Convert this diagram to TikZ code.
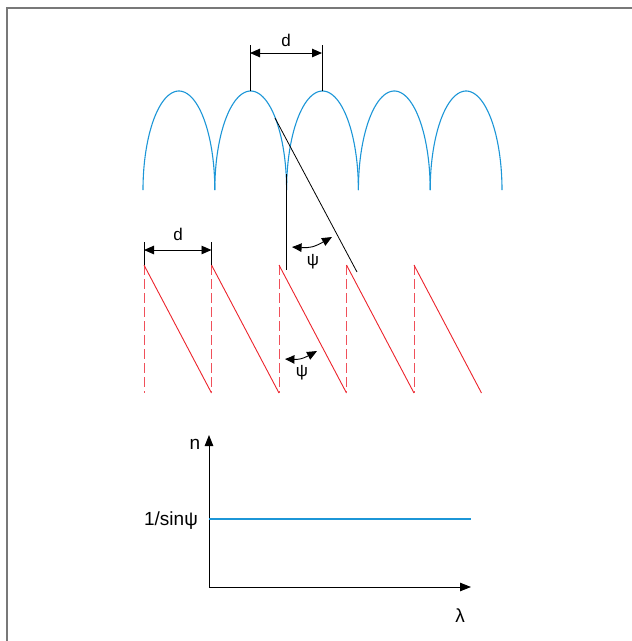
\documentclass[tikz,border=0pt]{standalone}
\usepackage{fontspec}
\setmainfont{Liberation Sans}
\usetikzlibrary{arrows.meta,bending}
\definecolor{arcblue}{RGB}{28,150,215}
\definecolor{sawred}{RGB}{236,36,44}
\definecolor{dashred}{RGB}{240,80,90}
\definecolor{framegray}{RGB}{120,120,120}
\begin{document}
\begin{tikzpicture}[x=1pt,y=-1pt,
  arch/.style={draw=arcblue,line width=1.1pt},
  saw/.style={draw=sawred,line width=0.9pt},
  sawdash/.style={draw=dashred,line width=0.9pt,dash pattern=on 10pt off 4pt},
  thin/.style={draw=black,line width=0.8pt},
  dimarrow/.style={draw=black,line width=0.9pt,{Triangle[length=10pt,width=8.5pt,bend]}-{Triangle[length=10pt,width=8.5pt,bend]}},
  axis/.style={draw=black,line width=0.9pt,-{Triangle[length=11pt,width=8.5pt]}},
  lbl/.style={inner sep=0pt,font=\fontsize{17}{17}\selectfont},
  biglbl/.style={inner sep=0pt,font=\fontsize{19}{19}\selectfont}]
\useasboundingbox (0,0) rectangle (632,641);
% frame
\draw[framegray,line width=1.4pt] (7,641) -- (7,8) -- (632,8);
% arches
\foreach \i in {0,...,4}{
  \pgfmathsetmacro{\cx}{178.9+71.8*\i}
  \draw[arch] plot[domain=180:360,samples=60,smooth] ({\cx+35.9*cos(\x)},{190+99*sin(\x)});
}
% top dimension d
\coordinate (p2) at (250,91);
\coordinate (p3) at (322,91);
\coordinate (p2t) at (250,45);
\coordinate (p3t) at (322,45);
\draw[thin] (p2) -- (p2t);
\draw[thin] (p3) -- (p3t);
\coordinate (da) at (250,53);
\coordinate (db) at (322,53);
\draw[dimarrow] (da) -- (db);
\node[lbl] (dtop) at (286,40) {d};
% black ray and normal
\coordinate (rs) at (275,118);
\coordinate (re) at (357,272);
\draw[thin] (rs) -- (re);
\coordinate (vs) at (286,174);
\coordinate (ve) at (286,270);
\draw[thin] (vs) -- (ve);
% psi arrow 1
\coordinate (a1) at (292,247);
\coordinate (a2) at (332,237);
\draw[dimarrow] (a1) .. controls (312,248.5) .. (a2);
\node[lbl] (psi1) at (313,262) {ψ};
% sawtooth
\foreach \i in {0,...,4}{
  \pgfmathsetmacro{\sx}{144+67.5*\i}
  \pgfmathsetmacro{\ex}{\sx+67.5}
  \draw[sawdash] (\sx,265) -- (\sx,393);
  \draw[saw] (\sx,265) -- (\ex,393);
}
% lower dimension d
\coordinate (q1) at (144,265);
\coordinate (q2) at (211.5,265);
\coordinate (q1t) at (144,242);
\coordinate (q2t) at (211.5,242);
\draw[thin] (q1) -- (q1t);
\draw[thin] (q2) -- (q2t);
\coordinate (qa) at (144,250);
\coordinate (qb) at (211.5,250);
\draw[dimarrow] (qa) -- (qb);
\node[lbl] (dlow) at (178,234) {d};
% psi arrow 2
\coordinate (b1) at (285,359);
\coordinate (b2) at (317,351);
\draw[dimarrow] (b1) .. controls (301,360) .. (b2);
\node[lbl] (psi2) at (302,373) {ψ};
% graph
\coordinate (o) at (209,587);
\coordinate (ytip) at (209,435);
\coordinate (xtip) at (471,587);
\draw[axis] (o) -- (ytip);
\draw[axis] (o) -- (xtip);
\coordinate (h1) at (209,519);
\coordinate (h2) at (471,519);
\draw[arch] (h1) -- (h2);
\node[biglbl] (nlab) at (195,444) {n};
\node[biglbl,anchor=east] (slab) at (198,521) {1/sinψ};
\node[biglbl] (llab) at (460,616) {λ};
\end{tikzpicture}
\end{document}
